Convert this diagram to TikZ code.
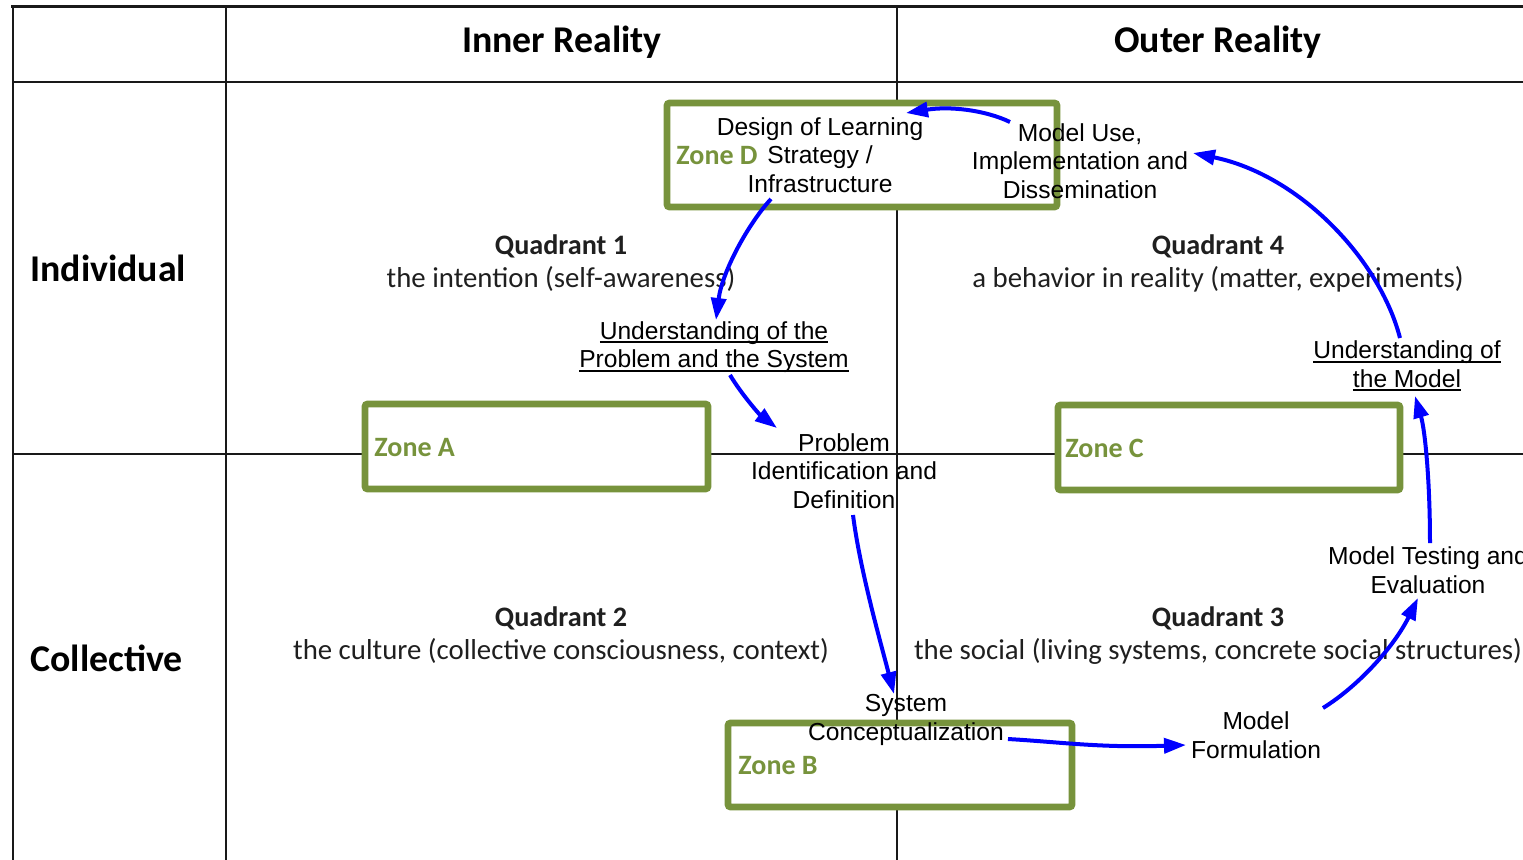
\documentclass[tikz,border=0pt]{standalone}
\usepackage{fontspec}
\setmainfont{Liberation Sans}
\newfontfamily\calibri{Carlito}
\usetikzlibrary{arrows.meta}
\definecolor{zonegreen}{HTML}{77933C}
\definecolor{flowblue}{HTML}{0000FF}
% underline with a fixed offset and thickness
\newcommand\ulline[1]{\sbox0{#1}\rlap{\rule[-2pt]{\wd0}{1pt}}\usebox0}

\begin{document}
\begin{tikzpicture}[x=0.5pt,y=-0.5pt,
  gridline/.style={draw=black!90, line width=1pt},
  zonebox/.style={draw=zonegreen, line width=3.3pt, fill=white, rounded corners=1.2pt, inner sep=0pt},
  zonelabel/.style={font=\calibri\bfseries\fontsize{14}{17}\selectfont, text=zonegreen, anchor=west, inner sep=0pt},
  header/.style={font=\calibri\bfseries\fontsize{18.9}{22}\selectfont, inner sep=0pt, anchor=base},
  quadtitle/.style={font=\calibri\bfseries\fontsize{14.1}{17}\selectfont, inner sep=0pt, anchor=base, text=black!88},
  quaddesc/.style={font=\calibri\fontsize{14.4}{17}\selectfont, inner sep=0pt, anchor=base, text=black!88},
  stage/.style={font=\fontsize{12.3}{14.2}\selectfont, align=center, inner sep=0pt},
  flow/.style={draw=flowblue, line width=2pt, -{Triangle[length=11pt,width=7.5pt]}}]

\useasboundingbox (0,0) rectangle (1523,859);

% table rules
\draw[gridline, line width=1.6pt] (11,6.5) -- (1530,6.5);
\draw[gridline] (12.5,6) -- (12.5,870);
\draw[gridline] (226,6) -- (226,870);
\draw[gridline] (897,6) -- (897,870);
\draw[gridline] (12,82) -- (1530,82);
\draw[gridline] (12,454) -- (1530,454);

% zones
\node[zonebox, minimum width=195pt, minimum height=52pt] (zoneD) at (862,155) {};
\node[zonebox, minimum width=171.5pt, minimum height=42.5pt] (zoneA) at (536.5,446.5) {};
\node[zonebox, minimum width=171pt, minimum height=42.5pt] (zoneC) at (1229,447.5) {};
\node[zonebox, minimum width=172pt, minimum height=42pt] (zoneB) at (900,765) {};

\node[zonelabel] (zoneDlabel) at (676,156) {Zone D};
\node[zonelabel] (zoneAlabel) at (374,448) {Zone A};
\node[zonelabel] (zoneClabel) at (1065,448) {Zone C};
\node[zonelabel] (zoneBlabel) at (738,766) {Zone B};

% headers
\node[header] (inner) at (562,52) {Inner Reality};
\node[header] (outer) at (1218,52) {Outer Reality};
\node[header, anchor=base west] (individual) at (30,281) {Individual};
\node[header, anchor=base west] (collective) at (30,671) {Collective};

% quadrants
\node[quadtitle] (q1t) at (561,254) {Quadrant 1};
\node[quaddesc] (q1d) at (561,287) {the intention (self-awareness)};
\node[quadtitle] (q4t) at (1218,254) {Quadrant 4};
\node[quaddesc] (q4d) at (1218,287) {a behavior in reality (matter, experiments)};
\node[quadtitle] (q2t) at (561,626) {Quadrant 2};
\node[quaddesc] (q2d) at (561,659) {the culture (collective consciousness, context)};
\node[quadtitle] (q3t) at (1218,626) {Quadrant 3};
\node[quaddesc] (q3d) at (1218,659) {the social (living systems, concrete social structures)};

% stages
\node[stage] (design) at (820,155) {Design of Learning\\Strategy /\\Infrastructure};
\node[stage] (use) at (1080,161) {Model Use,\\Implementation and\\Dissemination};
\node[stage] (underprob) at (714,347) {\ulline{Understanding of the}\\\ulline{Problem and the System}};
\node[stage] (probdef) at (844,471) {Problem\\Identification and\\Definition};
\node[stage] (undermodel) at (1407,366) {\ulline{Understanding of}\\\ulline{the Model}};
\node[stage] (testing) at (1428,570) {Model Testing and\\Evaluation};
\node[stage] (syscon) at (906,720) {System\\Conceptualization};
\node[stage] (formul) at (1256,735) {Model\\Formulation};

% connector ends
\coordinate (use-out) at (1010,122);
\coordinate (design-in) at (906,113);
\coordinate (design-out) at (771,199);
\coordinate (underprob-in) at (716,320);
\coordinate (underprob-out) at (730,375);
\coordinate (probdef-in) at (777,428);
\coordinate (probdef-out) at (853,515);
\coordinate (syscon-in) at (894,694);
\coordinate (syscon-out) at (1008,739);
\coordinate (formul-in) at (1186,745);
\coordinate (formul-out) at (1323,708);
\coordinate (testing-in) at (1418,598);
\coordinate (testing-out) at (1430,543);
\coordinate (undermodel-in) at (1415,396);
\coordinate (undermodel-out) at (1400,338);
\coordinate (use-in) at (1193,153);

% cycle
\draw[flow] (use-out) .. controls (985,110) and (950,106) .. (design-in);
\draw[flow] (design-out) .. controls (748,224) and (722,272) .. (underprob-in);
\draw[flow] (underprob-out) .. controls (742,395) and (760,415) .. (probdef-in);
\draw[flow] (probdef-out) .. controls (860,570) and (880,640) .. (syscon-in);
\draw[flow] (syscon-out) .. controls (1060,742) and (1100,748) .. (formul-in);
\draw[flow] (formul-out) .. controls (1360,685) and (1395,645) .. (testing-in);
\draw[flow] (testing-out) .. controls (1430,480) and (1425,430) .. (undermodel-in);
\draw[flow] (undermodel-out) .. controls (1380,260) and (1300,175) .. (use-in);
\end{tikzpicture}
\end{document}
